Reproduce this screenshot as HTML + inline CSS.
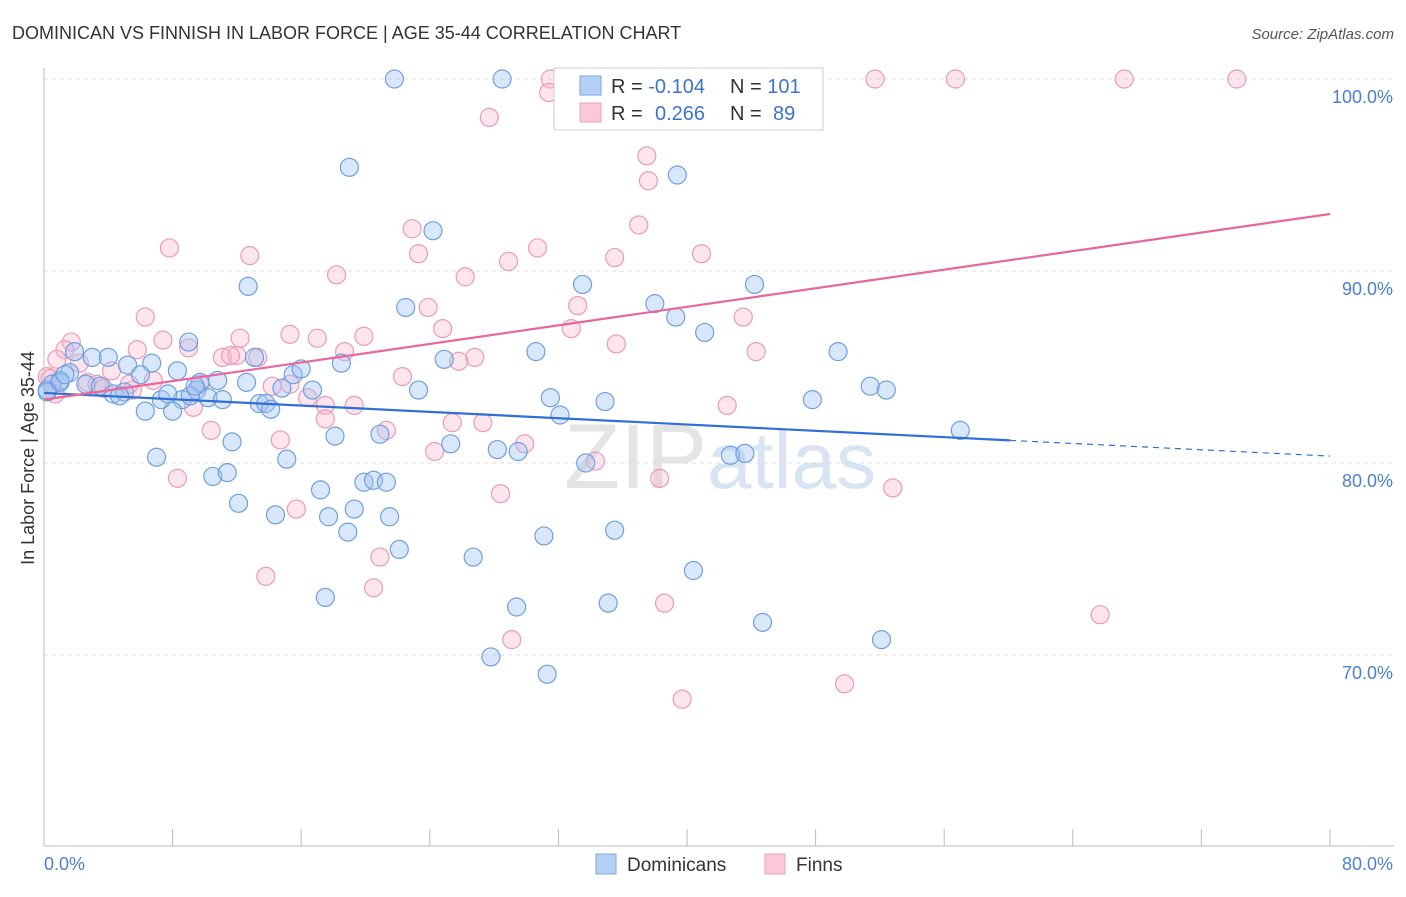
<!DOCTYPE html>
<html><head><meta charset="utf-8"><style>
body{margin:0;background:#fff;font-family:"Liberation Sans",sans-serif;}
svg text{font-family:"Liberation Sans",sans-serif;}
</style></head><body>
<svg id="chart" width="1406" height="892" xmlns="http://www.w3.org/2000/svg">
<text x="12" y="39" font-size="18" fill="#333">DOMINICAN VS FINNISH IN LABOR FORCE | AGE 35-44 CORRELATION CHART</text>
<text x="1394" y="39" font-size="15" fill="#555" text-anchor="end" font-style="italic">Source: ZipAtlas.com</text>
<text x="720" y="488" font-size="92" text-anchor="middle" fill="#e4e4e4" font-family="Liberation Serif"><tspan>ZIP</tspan><tspan fill="#d8e4f4" font-family="Liberation Sans" font-size="80">atlas</tspan></text>
<g id="grid"></g>
<g id="axes"></g>
<g id="points"></g>
<g id="lines"></g>
<text transform="translate(34,458) rotate(-90)" font-size="18" fill="#333" text-anchor="middle">In Labor Force | Age 35-44</text>
<text x="44" y="870" font-size="18" fill="#4a7fd4">0.0%</text>
<text x="1393" y="870" font-size="18" fill="#4a7fd4" text-anchor="end">80.0%</text>
<g>
<rect x="554" y="68" width="269" height="62" fill="#fff" stroke="#ccc"/>
<rect x="580" y="76" width="21" height="19" fill="#b5d0f5" stroke="#7aa5e6"/>
<rect x="580" y="103" width="21" height="19" fill="#fac8d8" stroke="#eda0b8"/>
<text x="611" y="93" font-size="20" fill="#333">R = <tspan fill="#3a74d0">-0.104</tspan></text>
<text x="730" y="93" font-size="20" fill="#333">N = <tspan fill="#3a74d0">101</tspan></text>
<text x="611" y="120" font-size="20" fill="#333">R = <tspan fill="#3a74d0" x="655">0.266</tspan></text>
<text x="730" y="120" font-size="20" fill="#333">N = <tspan fill="#3a74d0" x="773">89</tspan></text>
</g>
<g>
<rect x="596" y="854" width="20" height="20" fill="#b5d0f5" stroke="#7aa5e6"/>
<text x="627" y="871" font-size="19" fill="#333">Dominicans</text>
<rect x="765" y="854" width="20" height="20" fill="#fac8d8" stroke="#eda0b8"/>
<text x="796" y="871" font-size="19" fill="#333">Finns</text>
</g>
</svg>
<script>
const blueX=[21.8,28.5,19.0,39.4,24.2,12.7,33.5,44.2,22.5,38.0,39.3,41.1,9.0,30.6,49.4,1.9,3.0,4.0,5.2,6.7,8.3,6.0,1.6,1.0,0.5,0.2,2.6,3.5,4.3,5.0,7.3,8.6,9.7,10.8,12.6,13.1,14.8,15.5,16.0,16.7,18.5,24.9,23.3,31.5,34.9,47.8,51.4,52.4,6.3,8.0,9.5,10.2,11.1,13.4,13.8,14.1,18.1,20.9,25.3,28.2,29.5,32.1,33.7,42.7,43.6,57.0,7.0,11.7,15.1,10.5,11.4,12.1,14.4,17.2,17.7,19.3,19.9,20.5,21.3,21.5,18.9,22.1,26.7,31.1,35.5,17.5,29.4,35.1,40.4,44.7,52.1,27.8,31.3,0.2,1.0,1.3,4.7,7.7,9.1,9.4];
const blueY=[100,100,95.4,95.0,92.1,89.2,89.3,89.3,88.1,88.3,87.6,86.8,86.3,85.8,85.8,85.8,85.5,85.5,85.1,85.2,84.8,84.6,84.7,84.3,84.1,83.8,84.1,84.0,83.6,83.7,83.3,83.3,84.2,84.3,84.2,85.5,83.9,84.6,84.9,83.8,85.2,85.4,83.8,83.4,83.2,83.3,84.0,83.8,82.7,82.7,83.8,83.4,83.3,83.1,83.1,82.8,81.4,81.5,81.0,80.7,80.6,82.5,80.0,80.4,80.5,81.7,80.3,81.1,80.2,79.3,79.5,77.9,77.3,78.6,77.2,77.6,79.0,79.1,79.0,77.2,76.4,75.5,75.1,76.2,76.5,73.0,72.5,72.7,74.4,71.7,70.8,69.9,69.0,83.7,84.2,84.6,83.5,83.6,83.5,84.0];
const pinkX=[31.5,44.9,51.7,56.7,67.2,74.2,31.4,27.7,37.5,37.6,37.0,22.9,7.8,30.7,23.3,40.9,12.8,35.5,28.9,26.2,18.2,33.2,23.9,6.3,43.5,24.8,32.8,15.3,17.0,19.9,12.2,7.4,1.7,1.3,35.6,9.0,5.8,18.7,44.3,26.8,11.1,12.0,13.3,11.6,25.8,0.8,2.2,4.2,22.3,14.2,15.3,0.2,2.7,3.3,3.7,5.5,16.4,9.7,9.3,17.5,19.3,42.5,10.4,21.3,14.7,29.9,24.3,34.3,8.3,38.3,52.8,28.4,15.7,20.9,13.8,20.5,38.6,65.7,29.1,49.8,39.7,0.4,0.7,5.3,6.8,27.3,25.4,17.5];
const pinkY=[100,100,100,100,100,100,99.3,98.0,96.0,94.7,92.4,92.2,91.2,91.2,90.9,90.9,90.8,90.7,90.5,89.7,89.8,88.2,88.1,87.6,87.6,87.0,87.0,86.7,86.5,86.6,86.5,86.4,86.3,85.9,86.2,86.0,85.9,85.8,85.8,85.5,85.5,85.6,85.5,85.6,85.3,85.4,85.2,84.8,84.5,84.0,84.1,84.5,84.2,84.1,83.9,83.8,83.4,84.1,82.9,83.0,83.0,83.0,81.7,81.7,81.2,81.0,80.6,80.1,79.2,79.2,78.7,78.4,77.6,75.1,74.1,73.5,72.7,72.1,70.8,68.5,67.7,84.4,83.6,84.1,84.3,82.1,82.1,82.3];
const yTicks=[100,90,80,70];
const yTickLabels=["100.0%","90.0%","80.0%","70.0%"];
const xTicks=[0,8,16,24,32,40,48,56,64,72,80];
const blueLine=[83.65,80.36]; // y at x=0 and x=80
const blueSolidEnd=60.1;
const pinkLine=[83.3,92.97];

const NS="http://www.w3.org/2000/svg";
const X0=44,X1=1330;
const sx=v=>X0+(v/80)*(X1-X0);
const sy=v=>79+(100-v)*19.2;
function mk(t,a,p){const e=document.createElementNS(NS,t);for(const k in a)e.setAttribute(k,a[k]);p.appendChild(e);return e;}
const grid=document.getElementById('grid'),axes=document.getElementById('axes'),pts=document.getElementById('points'),lines=document.getElementById('lines');
yTicks.forEach((v,i)=>{
 const l=mk('line',{x1:X0,x2:1394,y1:sy(v),y2:sy(v),stroke:'#ddd','stroke-dasharray':'4,4'},grid);
 
 
 const t=mk('text',{x:1393,y:sy(v)+24,'font-size':18,fill:'#4a7fd4','text-anchor':'end'},grid);
 t.textContent=yTickLabels[i];
 
 
});
const ax=mk('line',{x1:X0,x2:X0,y1:68,y2:846,stroke:'#bbb'},axes);


const bx=mk('line',{x1:X0,x2:1394,y1:846,y2:846,stroke:'#bbb'},axes);


xTicks.forEach(v=>{
 const t=mk('line',{x1:sx(v),x2:sx(v),y1:829,y2:846,stroke:'#bbb'},axes);
 
 
});
function dots(X,Y,fill,stroke,name){
 X.forEach((x,i)=>{
  const c=mk('circle',{cx:sx(x),cy:sy(Y[i]),r:9,fill:fill,stroke:stroke,'stroke-width':1.2},pts);
  
  
 });
}
dots(pinkX,pinkY,'rgba(248,180,202,0.35)','#eb9ab6','finns-point');
dots(blueX,blueY,'rgba(160,196,242,0.4)','#6e9fe2','dominicans-point');
const by=x=>blueLine[0]+(blueLine[1]-blueLine[0])*x/80;
const l1=mk('line',{x1:sx(0),y1:sy(by(0)),x2:sx(blueSolidEnd),y2:sy(by(blueSolidEnd)),stroke:'#2f6fd6','stroke-width':2.2},lines);


const l2=mk('line',{x1:sx(blueSolidEnd),y1:sy(by(blueSolidEnd)),x2:sx(80),y2:sy(by(80)),stroke:'#2f6fd6','stroke-width':1.2,'stroke-dasharray':'6,5'},lines);


const l3=mk('line',{x1:sx(0),y1:sy(pinkLine[0]),x2:sx(80),y2:sy(pinkLine[1]),stroke:'#e8679a','stroke-width':2.2},lines);


</script>
</body></html>
